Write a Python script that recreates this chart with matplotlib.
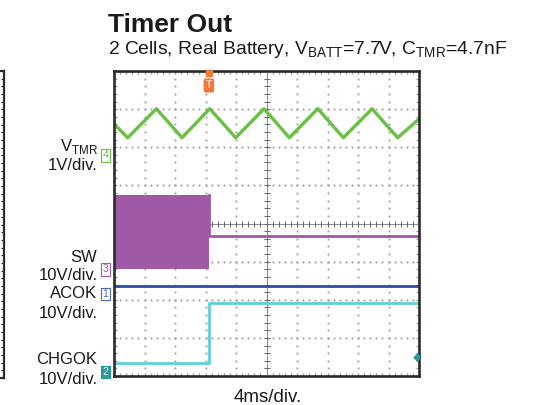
import numpy as np
import matplotlib
matplotlib.use("Agg")
import matplotlib.pyplot as plt

plt.rcParams["font.family"] = ["Liberation Sans", "DejaVu Sans"]
plt.rcParams["mathtext.fontset"] = "custom"
plt.rcParams["mathtext.rm"] = "Liberation Sans"

# scope traces, in divisions (10 x 8 screen)
t_tmr = [0, 0.45, 1.39, 2.23, 3.14, 3.99, 4.92, 5.75, 6.68, 7.52, 8.46, 9.30, 10]
v_tmr = [6.61, 6.25, 7.01, 6.25, 7.01, 6.25, 7.01, 6.25, 7.01, 6.25, 7.01, 6.25, 6.74]

t_sw = [0, 3.11, 3.11, 10]
sw_hi = [4.76, 4.76, 3.66, 3.66]
sw_lo = [2.80, 2.80, 3.66, 3.66]

t_acok = [0, 10]
v_acok = [2.37, 2.37]

t_chgok = [0, 3.11, 3.11, 10]
v_chgok = [0.34, 0.34, 1.92, 1.92]

trig_x = 3.11

labels = [  # text, y pixel
    ("V$_{\\mathrm{TMR}}$", 146),
    ("1V/div.", 165.5),
    ("SW", 257.5),
    ("10V/div.", 275),
    ("ACOK", 293),
    ("10V/div.", 313),
    ("CHGOK", 360),
    ("10V/div.", 379.5),
]
markers = [("4", 155.5, "#6abf45", False), ("3", 269.5, "#a05aa5", False),
           ("1", 293.8, "#5468b0", False), ("2", 372, "#2a9a98", True)]

W, H = 536, 405
fig = plt.figure(figsize=(W / 100, H / 100), dpi=100)


def fx(x):
    return x / W


def fy(y):
    return 1 - y / H


ax = fig.add_axes([fx(114), fy(376), 305 / W, 305 / H])
ax.set_xlim(0, 10)
ax.set_ylim(0, 8)

# dotted graticule
dot_c = "#9a9a9a"
for k in range(1, 10):
    if k == 5:
        continue
    ax.plot(np.full(41, k), np.linspace(0, 8, 41), ls="none", marker="s",
            ms=1.3, mew=0, color=dot_c, zorder=1)
for k in range(1, 8):
    if k == 4:
        continue
    ax.plot(np.linspace(0, 10, 51), np.full(51, k), ls="none", marker="s",
            ms=1.3, mew=0, color=dot_c, zorder=1)
# centre cross with ticks
ax.axvline(5, color="#777", lw=0.6, zorder=1)
ax.axhline(4, color="#777", lw=0.6, zorder=1)
ax.plot(np.full(41, 5), np.linspace(0, 8, 41), ls="none", marker="_",
        ms=4, mew=0.7, color="#666", zorder=1)
ax.plot(np.linspace(0, 10, 51), np.full(51, 4), ls="none", marker="|",
        ms=4, mew=0.7, color="#666", zorder=1)

ax.set_xticks(np.arange(0, 10.01, 0.2))
ax.set_yticks(np.arange(0, 8.01, 0.2))
ax.tick_params(direction="in", length=2.5, width=0.9, color="#999",
               top=True, right=True, labelbottom=False, labelleft=False)
for s in ax.spines.values():
    s.set_linewidth(1.9)
    s.set_color("#2a2a2a")
    s.set_zorder(5)

# traces
ax.plot(t_tmr, v_tmr, color="#6abf45", lw=2.4, zorder=3)
ax.fill_between(t_sw, sw_lo, sw_hi, color="#a05aa5", lw=0, zorder=3)
ax.plot(t_sw[1:], sw_hi[1:], color="#a05aa5", lw=2.0, zorder=3)
ax.plot(t_acok, v_acok, color="#2b4ea2", lw=2.0, zorder=3)
ax.plot(t_chgok, v_chgok, color="#5fcfdc", lw=2.0, zorder=3)

# trigger marker and CH2 reference
ax.plot([trig_x], [7.96], marker="s", ms=4, color="#f07a3c",
        clip_on=False, zorder=6)
ax.text(trig_x, 7.62, "T", ha="center", va="center", fontsize=7.5,
        color="#fbd0b8", fontweight="bold", zorder=6,
        bbox=dict(boxstyle="round,pad=0.2", fc="#f07a3c", ec="none"))
ax.plot([9.93], [0.51], marker="D", ms=3.5, color="#2a9a98", zorder=6)

# partial neighbouring plot at far left
ax2 = fig.add_axes([-0.2, fy(378), 0.2 + fx(4), 307 / H])
ax2.set_xlim(0, 1)
ax2.set_ylim(0, 8)
ax2.set_xticks([])
ax2.set_yticks(np.arange(0, 8.01, 0.2))
ax2.tick_params(axis="y", direction="in", length=2.5, width=0.8,
                color="#333", left=False, right=True, labelleft=False)
for s in ax2.spines.values():
    s.set_linewidth(1.6)
    s.set_color("#2a2a2a")

# texts
fig.text(fx(108), fy(32), "Timer Out", fontsize=19, fontweight="bold",
         va="baseline", color="#1a1a1a")
fig.text(fx(108), fy(54.5),
         "2 Cells, Real Battery, V$_{\\mathrm{BATT}}$=7.7V, C$_{\\mathrm{TMR}}$=4.7nF",
         fontsize=13.9, va="baseline", color="#1a1a1a")
for txt, y in labels:
    fig.text(fx(97.5), fy(y), txt, fontsize=12, ha="right", va="center",
             color="#1a1a1a")
for num, y, c, filled in markers:
    fig.text(fx(105.5), fy(y), num, fontsize=7.5, ha="center", va="center",
             color="white" if filled else c,
             bbox=dict(boxstyle="square,pad=0.12", fc=c if filled else "white",
                       ec=c, lw=0.8))
fig.text(fx(268), fy(397), "4ms/div.", fontsize=13.5, ha="center",
         va="center", color="#1a1a1a")

fig.savefig("out.png", dpi=100)
